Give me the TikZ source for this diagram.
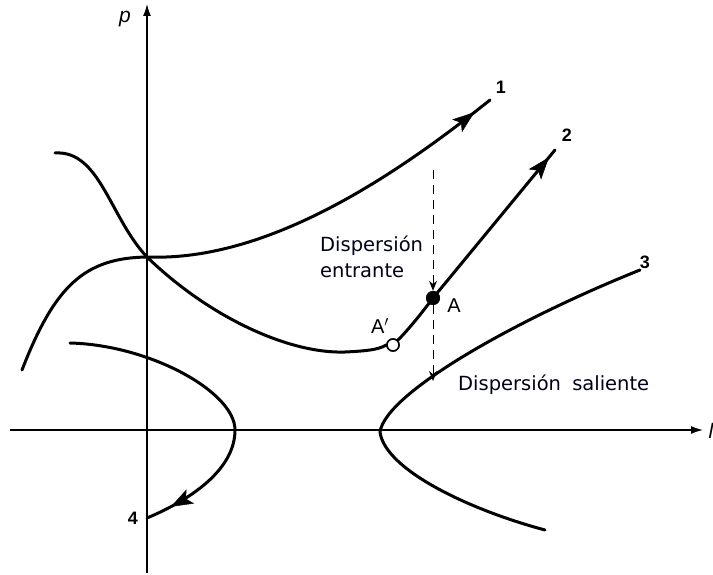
\documentclass[tikz,border=0pt]{standalone}
\usepackage{fontspec}
\setmainfont{Liberation Sans}
\newfontfamily\lblfont{DejaVu Sans}
\usetikzlibrary{arrows.meta,decorations.markings}
\begin{document}
\begin{tikzpicture}[x=1pt,y=-1pt,
  curve/.style={line width=3pt,line cap=round},
  axis/.style={line width=1.4pt,-{Latex[length=12pt,width=8pt]}},
  midarrow/.style={postaction={decorate},decoration={markings,mark=at position #1 with {\arrow[line width=0.5pt]{Stealth[length=22pt,width=16pt,inset=5pt]}}}},
  num/.style={font=\fontsize{18}{22}\selectfont\bfseries,inner sep=0pt},
  lbl/.style={font=\lblfont\fontsize{19.5}{24}\selectfont,inner sep=0pt,text=black!90!blue},
  dashline/.style={line width=1pt,dash pattern=on 9pt off 6pt},
  dasharrow/.style={dashline,-{Stealth[length=10pt,width=8pt]}}]
\useasboundingbox (0,0) rectangle (713,575);
% axes
\coordinate (yb) at (147,573);
\coordinate (yt) at (147,4);
\coordinate (xl) at (10,430);
\coordinate (xr) at (703,430);
\draw[axis] (yb) -- (yt);
\draw[axis] (xl) -- (xr);
\node[font=\fontsize{21}{24}\selectfont\itshape] (pl) at (125,19) {p};
\node[font=\fontsize{21}{24}\selectfont\itshape] (ll) at (711,431) {l};
% curve 1
\coordinate (c1s) at (22,370);
\coordinate (J) at (147,257);
\coordinate (c1e) at (490,100);
\draw[curve,midarrow=0.965] (c1s) .. controls (55,285) and (85,258) .. (J)
   .. controls (270,262) and (400,172) .. (c1e);
% curve 2
\coordinate (c2s) at (55,153);
\coordinate (m2) at (345,352);
\coordinate (c2e) at (555,150);
\node[circle,draw,line width=1.5pt,fill=white,minimum size=12pt,inner sep=0pt] (Ap) at (393,345) {};
\node[circle,fill=black,minimum size=14pt,inner sep=0pt] (A) at (433,298) {};
\draw[curve] (c2s) .. controls (100,150) and (110,218) .. (J)
   .. controls (210,318) and (290,354) .. (m2)
   .. controls (365,351) and (378,350) .. (Ap.west);
\draw[curve] (Ap.north east) .. controls (410,328) and (424,310) .. (A.center);
\draw[curve,midarrow=0.95] (A.center) -- (c2e);
\node[circle,draw,line width=1.5pt,fill=white,minimum size=12pt,inner sep=0pt] at (Ap) {};
\node[circle,fill=black,minimum size=14pt,inner sep=0pt] at (A) {};
% curve 3
\coordinate (c3s) at (640,270);
\coordinate (v3) at (380,432);
\coordinate (c3e) at (545,530);
\draw[curve] (c3s) .. controls (520,318) and (386,392) .. (v3)
   .. controls (385,470) and (470,510) .. (c3e);
% curve 4
\coordinate (c4s) at (70,343);
\coordinate (v4) at (235,430);
\coordinate (c4e) at (147,518);
\draw[curve,midarrow=0.92] (c4s) .. controls (150,345) and (235,392) .. (v4)
   .. controls (235,470) and (190,500) .. (c4e);
% dashed arrows
\coordinate (dt) at (433,170);
\coordinate (d3) at (433,381);
\draw[dasharrow] (dt) -- (A.north);
\draw[dasharrow] (A.south) -- (d3);
% labels
\node[num] (n1) at (501,87) {1};
\node[num] (n2) at (567,135) {2};
\node[num] (n3) at (645,262) {3};
\node[num] (n4) at (133,518) {4};
\node[font=\fontsize{20}{22}\selectfont,inner sep=0pt] (lA) at (454,306) {A};
\node[font=\fontsize{20}{22}\selectfont,inner sep=0pt] (lAp) at (380,326) {A$'$};
\node[lbl,anchor=west] (de1) at (320,246) {Dispersión};
\node[lbl,anchor=west] (de2) at (320,271) {entrante};
\node[lbl,anchor=west] (ds) at (458,385) {Dispersión\hspace{5pt} saliente};
\end{tikzpicture}
\end{document}
